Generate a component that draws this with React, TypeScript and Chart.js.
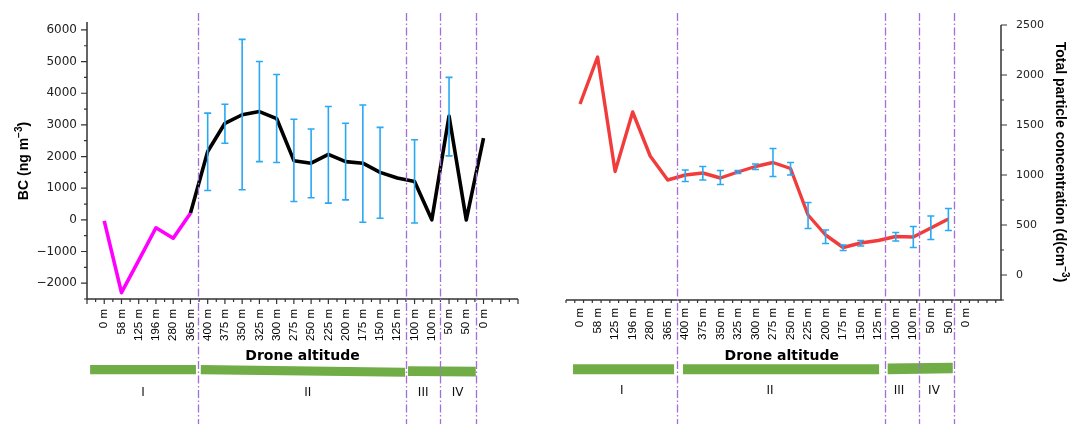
import React, { useEffect, useRef } from 'react';
import Chart from 'chart.js/auto';

// ---------- data ----------
const altitudeLabels = [
  '0 m', '58 m', '125 m', '196 m', '280 m', '365 m', '400 m', '375 m', '350 m', '325 m', '300 m',
  '275 m', '250 m', '225 m', '200 m', '175 m', '150 m', '125 m', '100 m', '100 m', '50 m', '50 m', '0 m',
];

// BC (ng m-3): ascent segment (magenta) and flight segment (black)
const bcAscent = [-30, -2300, -1280, -250, -580, 210, null, null, null, null, null, null, null, null, null, null, null, null, null, null, null, null, null];
const bcFlight = [null, null, null, null, null, 210, 2160, 3050, 3320, 3420, 3200, 1870, 1790, 2070, 1840, 1790, 1500, 1320, 1210, 0, 3280, 0, 2580];
const bcErrLow = [null, null, null, null, null, null, 925, 2420, 950, 1840, 1810, 580, 700, 530, 630, -75, 50, null, -100, null, 2020, null, null];
const bcErrHigh = [null, null, null, null, null, null, 3370, 3650, 5700, 5000, 4590, 3180, 2870, 3580, 3050, 3630, 2920, null, 2530, null, 4500, null, null];

// Total particle concentration
const tpcValues = [1710, 2180, 1035, 1630, 1190, 950, 1000, 1020, 970, 1030, 1085, 1125, 1065, 600, 400, 275, 320, 345, 385, 380, 470, 560, null];
const tpcErrLow = [null, null, null, null, null, null, 935, 950, 905, 1015, 1055, 985, 1000, 465, 315, 245, 290, null, 340, 275, 355, 445, null];
const tpcErrHigh = [null, null, null, null, null, null, 1050, 1085, 1045, 1045, 1110, 1265, 1125, 725, 450, 300, 345, null, 425, 485, 590, 665, null];

const bcTicks = [-2000, -1000, 0, 1000, 2000, 3000, 4000, 5000, 6000];
const tpcTicks = [0, 500, 1000, 1500, 2000, 2500];
const phaseNames = ['I', 'II', 'III', 'IV'];

// ---------- helpers ----------
const fmtNum = (v: number) => (v < 0 ? '\u2212' + String(Math.abs(v)) : String(v));
const AXIS = '#333333';
const TEXT = '#111111';

type Part = { text: string; sup?: boolean };

function drawParts(ctx: CanvasRenderingContext2D, parts: Part[], x: number, y: number, angle: number, size: number) {
  ctx.save();
  ctx.translate(x, y);
  ctx.rotate(angle);
  const base = `bold ${size}px "Liberation Sans", Arial, sans-serif`;
  const sup = `bold ${Math.round(size * 0.68)}px "Liberation Sans", Arial, sans-serif`;
  const widths = parts.map((p) => {
    ctx.font = p.sup ? sup : base;
    return ctx.measureText(p.text).width;
  });
  const total = widths.reduce((a, b) => a + b, 0);
  let cx = -total / 2;
  ctx.textAlign = 'left';
  ctx.textBaseline = 'alphabetic';
  ctx.fillStyle = '#000';
  parts.forEach((p, i) => {
    ctx.font = p.sup ? sup : base;
    ctx.fillText(p.text, cx, p.sup ? -size * 0.42 : 0);
    cx += widths[i];
  });
  ctx.restore();
}

const decorPlugin = {
  id: 'decor',
  afterDatasetsDraw(chart: any, _args: any, opts: any) {
    const { ctx } = chart;
    const xs = chart.scales.x;
    const ys = chart.scales.y;
    ctx.save();
    ctx.strokeStyle = '#2aa8f2';
    ctx.lineWidth = 1.6;
    const cap = 3.5;
    (opts.errLow as (number | null)[]).forEach((lo, i) => {
      const hi = opts.errHigh[i];
      if (lo == null || hi == null) return;
      const px = xs.getPixelForValue(i);
      const y1 = ys.getPixelForValue(lo);
      const y2 = ys.getPixelForValue(hi);
      ctx.beginPath();
      ctx.moveTo(px, y1);
      ctx.lineTo(px, y2);
      ctx.moveTo(px - cap, y1);
      ctx.lineTo(px + cap, y1);
      ctx.moveTo(px - cap, y2);
      ctx.lineTo(px + cap, y2);
      ctx.stroke();
    });
    ctx.restore();
  },
  afterDraw(chart: any, _args: any, opts: any) {
    const { ctx, chartArea } = chart;
    const xs = chart.scales.x;
    const ys = chart.scales.y;
    const { left, right, top, bottom } = chartArea;
    ctx.save();

    // axes lines
    ctx.strokeStyle = AXIS;
    ctx.lineWidth = 1.5;
    ctx.beginPath();
    ctx.moveTo(left, bottom);
    ctx.lineTo(right, bottom);
    const yAxisX = opts.side === 'left' ? left : right;
    ctx.moveTo(yAxisX, top);
    ctx.lineTo(yAxisX, bottom + 0.75);
    ctx.stroke();

    // x ticks
    ctx.lineWidth = 1.2;
    ctx.beginPath();
    for (let v = xs.min; v <= xs.max + 1e-6; v += 0.5) {
      const px = xs.getPixelForValue(v);
      const len = Math.abs(v - Math.round(v)) < 1e-6 ? 5 : 3;
      ctx.moveTo(px, bottom);
      ctx.lineTo(px, bottom + len);
    }
    // y ticks
    const dir = opts.side === 'left' ? -1 : 1;
    const start = Math.ceil(ys.min / opts.yMinor) * opts.yMinor;
    for (let v = start; v <= ys.max + 1e-6; v += opts.yMinor) {
      const py = ys.getPixelForValue(v);
      const len = Math.abs(v % opts.yMajor) < 1e-6 ? 6 : 3;
      ctx.moveTo(yAxisX, py);
      ctx.lineTo(yAxisX + dir * len, py);
    }
    ctx.stroke();

    // green phase bars
    ctx.fillStyle = '#70ad47';
    (opts.bars as any[]).forEach((b) => {
      const x0 = xs.getPixelForValue(b.x0);
      const x1 = xs.getPixelForValue(b.x1);
      ctx.beginPath();
      ctx.moveTo(x0, b.t0);
      ctx.lineTo(x1, b.t1);
      ctx.lineTo(x1, b.b1);
      ctx.lineTo(x0, b.b0);
      ctx.closePath();
      ctx.fill();
    });

    // dividers
    ctx.strokeStyle = '#a36fd6';
    ctx.lineWidth = 1.3;
    ctx.setLineDash([8, 2.5, 1.5, 2.5]);
    (opts.dividers as number[]).forEach((d) => {
      const px = Math.round(xs.getPixelForValue(d)) + 0.5;
      ctx.beginPath();
      ctx.moveTo(px, 13);
      ctx.lineTo(px, 424);
      ctx.stroke();
    });
    ctx.setLineDash([]);

    // phase labels
    ctx.fillStyle = TEXT;
    ctx.font = '12px "DejaVu Sans", sans-serif';
    ctx.textAlign = 'center';
    ctx.textBaseline = 'alphabetic';
    (opts.phases as number[]).forEach((p, i) => {
      ctx.fillText(phaseNames[i], xs.getPixelForValue(p), opts.phaseY);
    });

    // x title
    ctx.fillStyle = '#000';
    ctx.font = 'bold 14px "DejaVu Sans", sans-serif';
    ctx.fillText('Drone altitude', xs.getPixelForValue(opts.xTitleAt), 360);
    ctx.restore();

    // y title
    drawParts(ctx, opts.yTitle.parts, opts.yTitle.x, opts.yTitle.y, opts.yTitle.angle, 14);
  },
};

function makeConfig(side: 'left' | 'right'): any {
  const isLeft = side === 'left';
  const datasets = isLeft
    ? [
        {
          data: bcAscent.map((v, i) => ({ x: i, y: v })),
          borderColor: '#ff00ff',
          borderWidth: 3.6,
          pointRadius: 0,
          borderJoinStyle: 'round',
          spanGaps: false,
        },
        {
          data: bcFlight.map((v, i) => ({ x: i, y: v })),
          borderColor: '#000000',
          borderWidth: 3.6,
          pointRadius: 0,
          borderJoinStyle: 'round',
          spanGaps: false,
        },
      ]
    : [
        {
          data: tpcValues.map((v, i) => ({ x: i, y: v })),
          borderColor: '#f23c3c',
          borderWidth: 3.4,
          pointRadius: 0,
          borderJoinStyle: 'round',
          spanGaps: false,
        },
      ];

  const xMin = isLeft ? -1 : -0.8;
  return {
    type: 'line',
    data: { datasets },
    options: {
      animation: false,
      responsive: false,
      events: [],
      layout: {
        padding: isLeft ? { left: 0, right: 1070 - 518, top: 22, bottom: 0 } : { left: 566, right: 0, top: 25, bottom: 0 },
      },
      plugins: {
        legend: { display: false },
        tooltip: { enabled: false },
        decor: isLeft
          ? {
              side: 'left',
              yMinor: 500,
              yMajor: 1000,
              errLow: bcErrLow,
              errHigh: bcErrHigh,
              dividers: [5.45, 17.5, 19.5, 21.55],
              bars: [
                { x0: -0.82, x1: 5.32, t0: 365, t1: 365, b0: 374.3, b1: 374.3 },
                { x0: 5.6, x1: 17.45, t0: 365, t1: 367.7, b0: 374.3, b1: 376.7 },
                { x0: 17.62, x1: 21.55, t0: 366.3, t1: 366.7, b0: 376, b1: 376.5 },
              ],
              phases: [2.25, 11.8, 18.5, 20.5],
              phaseY: 396,
              xTitleAt: 11.5,
              yTitle: {
                parts: [{ text: 'BC (ng m' }, { text: '\u22123', sup: true }, { text: ')' }],
                x: 28,
                y: 161,
                angle: -Math.PI / 2,
              },
            }
          : {
              side: 'right',
              yMinor: 250,
              yMajor: 500,
              errLow: tpcErrLow,
              errHigh: tpcErrHigh,
              dividers: [5.52, 17.4, 19.3, 21.3],
              bars: [
                { x0: -0.4, x1: 5.36, t0: 364.3, t1: 364.3, b0: 374.3, b1: 374.3 },
                { x0: 5.87, x1: 17.05, t0: 364.3, t1: 364.3, b0: 374.3, b1: 374.3 },
                { x0: 17.54, x1: 21.25, t0: 363.6, t1: 362.7, b0: 374.3, b1: 373.3 },
              ],
              phases: [2.38, 10.83, 18.19, 20.18],
              phaseY: 394,
              xTitleAt: 11.5,
              yTitle: {
                parts: [{ text: 'Total particle concentration (d(cm' }, { text: '\u22123', sup: true }, { text: ')' }],
                x: 1056,
                y: 162,
                angle: Math.PI / 2,
              },
            },
      },
      scales: {
        x: {
          type: 'linear',
          min: xMin,
          max: 24,
          afterBuildTicks: (s: any) => {
            s.ticks = altitudeLabels.map((_, i) => ({ value: i }));
          },
          afterFit: (s: any) => {
            s.height = isLeft ? 424 - 299 : 424 - 300;
          },
          grid: { display: false, drawTicks: false },
          border: { display: false },
          ticks: {
            autoSkip: false,
            minRotation: 90,
            maxRotation: 90,
            padding: isLeft ? 10 : 8,
            color: '#000000',
            font: { family: '"Liberation Sans", Arial, sans-serif', size: 11.5 },
            callback: (v: number) => altitudeLabels[v] ?? '',
          },
        },
        y: {
          position: side,
          min: isLeft ? -2500 : -250,
          max: isLeft ? 6250 : 2500,
          afterBuildTicks: (s: any) => {
            s.ticks = (isLeft ? bcTicks : tpcTicks).map((v) => ({ value: v }));
          },
          afterFit: (s: any) => {
            s.width = isLeft ? 87 : 1070 - 1001;
          },
          grid: { display: false, drawTicks: false },
          border: { display: false },
          ticks: {
            padding: isLeft ? 10 : 15,
            color: '#222222',
            font: { family: '"DejaVu Sans", sans-serif', size: isLeft ? 12 : 11 },
            callback: (v: number) => fmtNum(v),
          },
        },
      },
    },
    plugins: [decorPlugin],
  };
}

function Panel({ side }: { side: 'left' | 'right' }) {
  const ref = useRef<HTMLCanvasElement>(null);
  useEffect(() => {
    if (!ref.current) return;
    const chart = new Chart(ref.current, makeConfig(side));
    return () => chart.destroy();
  }, [side]);
  return (
    <canvas
      ref={ref}
      width={1070}
      height={424}
      style={{ position: 'absolute', left: 0, top: 0, width: 1070, height: 424 }}
    />
  );
}

export default function App() {
  return (
    <div style={{ position: 'absolute', left: 0, top: 0, width: 1070, height: 424, background: '#fff', overflow: 'hidden' }}>
      <Panel side="left" />
      <Panel side="right" />
    </div>
  );
}
